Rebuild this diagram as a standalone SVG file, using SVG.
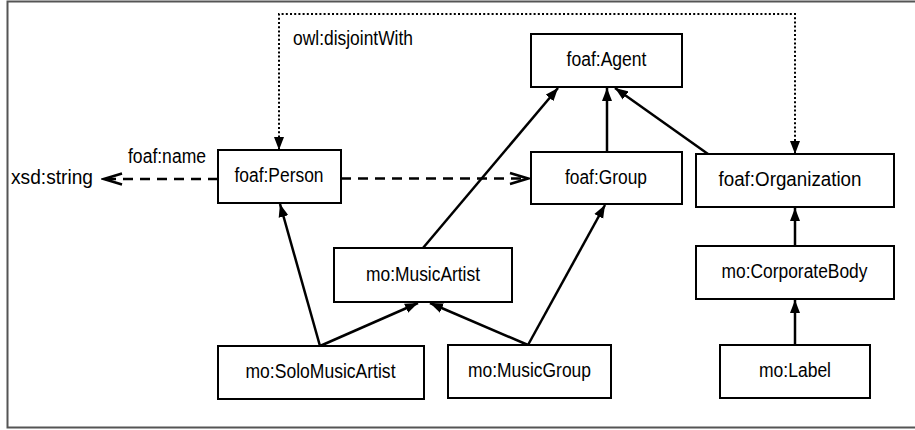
<svg xmlns="http://www.w3.org/2000/svg" width="915" height="430" viewBox="0 0 915 430">
<style>
.box{fill:#fff;stroke:#000;stroke-width:2}
.lbl{font-family:"Liberation Sans",Arial,sans-serif;font-size:19.5px;fill:#000}
.c{text-anchor:middle}
.sub{fill:none;stroke:#000;stroke-width:2.5}
.dash{fill:none;stroke:#000;stroke-width:2.5;stroke-dasharray:10 7}
.dot{fill:none;stroke:#000;stroke-width:2;stroke-dasharray:2 2.2}
</style>
<defs>
<marker id="tri" markerUnits="userSpaceOnUse" markerWidth="14" markerHeight="11" refX="13" refY="5" orient="auto-start-reverse" viewBox="0 0 14 10">
<path d="M0,0 L13,5 L0,10 z" fill="#000"/>
</marker>
<marker id="open" markerUnits="userSpaceOnUse" markerWidth="22" markerHeight="16" refX="19" refY="7" orient="auto" viewBox="0 0 22 14">
<path d="M1,1.5 L19,7 L1,12.5" fill="none" stroke="#000" stroke-width="2.5"/>
</marker>
</defs>
<rect width="915" height="430" fill="#fff"/>
<path d="M915 1.5 H7.5 V427.5 H915" fill="none" stroke="#555" stroke-width="2"/>

<g id="connectors">
<path class="dot" d="M279 150 V14 H795 V154" marker-start="url(#tri)" marker-end="url(#tri)"/>
<line class="dash" x1="218" y1="179" x2="104" y2="179" marker-end="url(#open)"/>
<line class="dash" x1="341" y1="178.5" x2="528" y2="178.5" marker-end="url(#open)"/>
<line class="sub" x1="423" y1="248" x2="558" y2="88" marker-end="url(#tri)"/>
<line class="sub" x1="607" y1="152" x2="607" y2="88" marker-end="url(#tri)"/>
<line class="sub" x1="708" y1="154" x2="615" y2="88" marker-end="url(#tri)"/>
<line class="sub" x1="320" y1="346" x2="280" y2="204" marker-end="url(#tri)"/>
<line class="sub" x1="320" y1="346" x2="418" y2="303" marker-end="url(#tri)"/>
<line class="sub" x1="528" y1="345" x2="430" y2="303" marker-end="url(#tri)"/>
<line class="sub" x1="528" y1="345" x2="605" y2="205" marker-end="url(#tri)"/>
<line class="sub" x1="795" y1="246" x2="795" y2="208" marker-end="url(#tri)"/>
<line class="sub" x1="795" y1="345" x2="795" y2="300" marker-end="url(#tri)"/>
<text class="lbl" x="293" y="45" textLength="120" lengthAdjust="spacingAndGlyphs">owl:disjointWith</text>
<text class="lbl" x="128" y="163" textLength="78" lengthAdjust="spacingAndGlyphs">foaf:name</text>
</g>

<g id="xsd-string"><text class="lbl" x="11" y="184" textLength="82" lengthAdjust="spacingAndGlyphs">xsd:string</text></g>

<g id="foaf-agent"><rect class="box" x="531" y="34" width="151" height="53"/><text class="lbl c" x="606.5" y="66" textLength="80" lengthAdjust="spacingAndGlyphs">foaf:Agent</text></g>
<g id="foaf-person"><rect class="box" x="218" y="150" width="123" height="53"/><text class="lbl c" x="279" y="182" textLength="89" lengthAdjust="spacingAndGlyphs">foaf:Person</text></g>
<g id="foaf-group"><rect class="box" x="531" y="152" width="151" height="52"/><text class="lbl c" x="606" y="183.5" textLength="82" lengthAdjust="spacingAndGlyphs">foaf:Group</text></g>
<g id="foaf-organization"><rect class="box" x="696" y="154" width="198" height="53"/><text class="lbl c" x="790" y="186" textLength="143" lengthAdjust="spacingAndGlyphs">foaf:Organization</text></g>
<g id="mo-musicartist"><rect class="box" x="334" y="248" width="178" height="54"/><text class="lbl c" x="423" y="280.5" textLength="114" lengthAdjust="spacingAndGlyphs">mo:MusicArtist</text></g>
<g id="mo-corporatebody"><rect class="box" x="696" y="246" width="198" height="53"/><text class="lbl c" x="794.5" y="278" textLength="146" lengthAdjust="spacingAndGlyphs">mo:CorporateBody</text></g>
<g id="mo-solomusicartist"><rect class="box" x="218" y="346" width="206" height="53"/><text class="lbl c" x="320.5" y="378" textLength="150" lengthAdjust="spacingAndGlyphs">mo:SoloMusicArtist</text></g>
<g id="mo-musicgroup"><rect class="box" x="448" y="345" width="163" height="53"/><text class="lbl c" x="529.5" y="377" textLength="123" lengthAdjust="spacingAndGlyphs">mo:MusicGroup</text></g>
<g id="mo-label"><rect class="box" x="720" y="345" width="150" height="53"/><text class="lbl c" x="795" y="377" textLength="72" lengthAdjust="spacingAndGlyphs">mo:Label</text></g>
</svg>
